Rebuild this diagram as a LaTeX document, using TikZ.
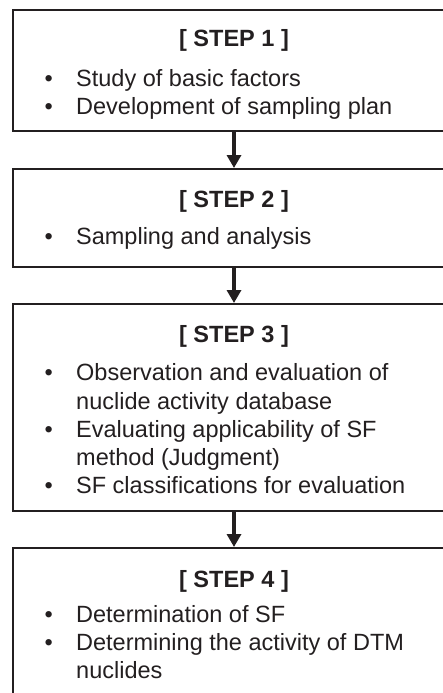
\documentclass[tikz,border=0pt]{standalone}
\usepackage{fontspec}
\setmainfont{Liberation Sans}
\usepackage{tikz}
\usetikzlibrary{arrows.meta,positioning}
\definecolor{ink}{HTML}{231F20}
\tikzstyle{stepbox}=[draw=ink, line width=2.4pt, minimum width=442pt,
                     inner sep=0pt, anchor=north]
\tikzstyle{head}   =[inner sep=0pt, anchor=base, text=ink,
                     font=\bfseries\fontsize{23.5pt}{28pt}\selectfont]
\tikzstyle{bul}    =[inner sep=0pt, anchor=base west, text=ink,
                     font=\fontsize{23.5pt}{28pt}\selectfont]
\tikzstyle{flow}   =[draw=ink, line width=4.5pt,
                     -{Triangle[width=14pt, length=13pt]}]
\newcommand{\dotitem}{\llap{\textbullet\hspace{23.4pt}}}

\begin{document}
\begin{tikzpicture}[x=1pt, y=-1pt]
    \useasboundingbox (0,0) rectangle (443,693);
    \clip (0,0) rectangle (443,693);
    % step 1
    \node[stepbox, minimum height=121pt] (s1) at (234,9) {};
    \node[head] (h1) at (234,47) {[ STEP 1 ]};
    \node[bul] (b1a) at (76,86) {\dotitem Study of basic factors};
    \node[bul] (b1b) at (76,114) {\dotitem Development of sampling plan};
    % step 2
    \node[stepbox, minimum height=98pt] (s2) at (234,168) {};
    \node[head] (h2) at (234,207) {[ STEP 2 ]};
    \node[bul] (b2a) at (76,244) {\dotitem Sampling and analysis};
    % step 3
    \node[stepbox, minimum height=207pt] (s3) at (234,303) {};
    \node[head] (h3) at (234,342) {[ STEP 3 ]};
    \node[bul] (b3a) at (76,380) {\dotitem Observation and evaluation of};
    \node[bul] (b3b) at (76,409) {nuclide activity database};
    \node[bul] (b3c) at (76,437) {\dotitem Evaluating applicability of SF};
    \node[bul] (b3d) at (76,465) {method (Judgment)};
    \node[bul] (b3e) at (76,493) {\dotitem SF classifications for evaluation};
    % step 4
    \node[stepbox, minimum height=160pt] (s4) at (234,547) {};
    \node[head] (h4) at (234,587) {[ STEP 4 ]};
    \node[bul] (b4a) at (76,622) {\dotitem Determination of SF};
    \node[bul] (b4b) at (76,650) {\dotitem Determining the activity of DTM};
    \node[bul] (b4c) at (76,678) {nuclides};
    % arrows
    \draw[flow] (h1 |- s1.south) -- (h2 |- s2.north);
    \draw[flow] (h2 |- s2.south) -- (h3 |- s3.north);
    \draw[flow] (h3 |- s3.south) -- (h4 |- s4.north);
\end{tikzpicture}
\end{document}
